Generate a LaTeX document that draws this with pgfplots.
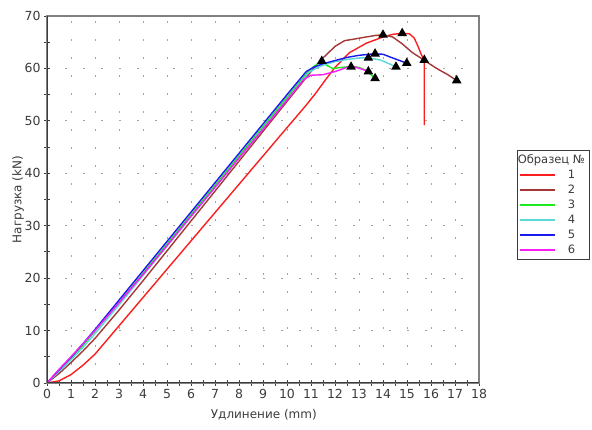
\documentclass[border=0pt]{standalone}
\usepackage{pgfplots}
\pgfplotsset{compat=1.18}
\usepackage{fontspec}
\setmainfont{DejaVu Sans}
\definecolor{c1}{RGB}{250,30,30}
\definecolor{c2}{RGB}{165,55,55}
\definecolor{c3}{RGB}{30,235,30}
\definecolor{c4}{RGB}{90,215,215}
\definecolor{c5}{RGB}{25,25,240}
\definecolor{c6}{RGB}{245,30,245}
\definecolor{gridc}{RGB}{165,165,145}
\definecolor{axc}{RGB}{60,60,60}
\begin{document}
\begin{tikzpicture}
\path[use as bounding box] (0pt,0pt) rectangle (592pt,430pt);
\begin{axis}[
  at={(47pt,47pt)}, anchor=south west,
  scale only axis, width=432pt, height=367pt,
  xmin=0, xmax=18, ymin=0, ymax=70,
  xtick distance=1, ytick distance=10,
  minor x tick num=1, minor y tick num=1,
  xtick pos=left, ytick pos=left,
  tick align=center,
  major tick length=6pt, minor tick length=6pt,
  every tick/.style={axc, line width=0.9pt},
  axis line style={gray, line width=1.4pt},
  grid=major,
  major grid style={gridc, line width=0.9pt, dash pattern=on 2pt off 16pt},
  /pgf/number format/assume math mode=true,
  tick label style={font=\fontsize{12.5}{14}\selectfont, text=axc},
  xlabel={Удлинение (mm)},
  ylabel={Нагрузка (kN)},
  every axis x label/.style={at={(axis description cs:0.502,-0.087)}, anchor=center, font=\fontsize{12}{14}\selectfont, text=axc},
  every axis y label/.style={at={(axis description cs:-0.067,0.5)}, rotate=90, anchor=center, font=\fontsize{12}{14}\selectfont, text=axc},
  legend style={at={(axis description cs:1.088,0.635)}, anchor=north west,
    draw=axc, line width=0.7pt, font=\fontsize{11.5}{14}\selectfont, text=axc,
    row sep=1pt, inner xsep=2pt, inner ysep=2.5pt},
  legend cell align=left,
  legend image code/.code={\draw[#1, line width=1.4pt] (0pt,0pt) -- (35pt,0pt);},
  every axis plot/.append style={line width=1.4pt},
]
\addlegendimage{empty legend}
\addlegendentry{\hspace*{-40pt}Образец №}
\addplot[c1, draw=c1] coordinates {(0,0)(0.5,0.4)(1,1.6)(1.5,3.4)(2,5.5)(2.5,8.2)(3,10.9)(4,16.3)(5,21.7)(6,27.1)(7,32.5)(8,37.9)(9,43.3)(10,48.7)(10.8,53.0)(11.2,55.3)(11.6,57.8)(12,60.2)(12.6,63.0)(13.3,64.8)(14,66.0)(14.4,66.5)(14.8,66.7)(15.1,66.6)(15.3,65.8)(15.45,64.3)(15.6,62.6)(15.72,61.6)(15.72,49.2)};
\addlegendentry{\hspace*{10pt}1}
\addplot[c2, draw=c2] coordinates {(0,0)(0.5,1.8)(1,3.9)(1.5,6.1)(2,8.5)(3,13.9)(4,19.5)(5,25.2)(6,30.9)(7,36.6)(8,42.3)(9,48.0)(10,53.7)(11,59.4)(11.5,62.0)(12,64.2)(12.4,65.3)(12.8,65.6)(13.3,66.0)(13.7,66.3)(14,66.4)(14.4,66.0)(14.8,64.7)(15.2,63.1)(15.7,61.6)(16.2,60.1)(16.7,58.8)(17.07,57.7)};
\addlegendentry{\hspace*{10pt}2}
\addplot[c3, draw=c3] coordinates {(0,0)(0.5,2.4)(1,4.7)(1.5,7.2)(2,9.9)(3,15.3)(4,20.9)(5,26.5)(6,32.1)(7,37.7)(8,43.3)(9,48.9)(10,54.5)(10.9,59.5)(11.15,60.5)(11.45,61.4)(11.65,60.6)(11.9,60.0)(12.3,60.2)(12.7,60.4)(13.0,60.2)(13.25,59.7)(13.45,59.0)(13.67,58.1)};
\addlegendentry{\hspace*{10pt}3}
\addplot[c4, draw=c4] coordinates {(0,0)(0.5,2.2)(1,4.4)(1.5,6.8)(2,9.4)(3,14.9)(4,20.5)(5,26.1)(6,31.7)(7,37.3)(8,42.9)(9,48.5)(10,54.1)(10.9,59.2)(11.2,60.0)(11.5,60.6)(12,61.3)(12.5,61.7)(13,62.0)(13.39,62.0)(13.9,61.6)(14.3,60.8)(14.54,60.3)};
\addlegendentry{\hspace*{10pt}4}
\addplot[c5, draw=c5] coordinates {(0,0)(0.5,2.5)(1,4.9)(1.5,7.5)(2,10.2)(3,15.8)(4,21.4)(5,27.0)(6,32.6)(7,38.2)(8,43.8)(9,49.4)(10,55.0)(10.8,59.4)(11.1,60.2)(11.5,60.9)(12,61.5)(12.5,62.1)(13,62.5)(13.67,62.8)(14,62.7)(14.4,62.0)(14.99,61.0)};
\addlegendentry{\hspace*{10pt}5}
\addplot[c6, draw=c6] coordinates {(0,0)(0.5,2.6)(1,5.0)(1.5,7.5)(2,10.0)(3,15.3)(4,20.7)(5,26.2)(6,31.8)(7,37.3)(8,42.9)(9,48.4)(10,54.0)(10.7,57.9)(11.0,58.7)(11.5,58.8)(12,59.4)(12.5,60.2)(12.8,60.3)(13.1,59.9)(13.39,59.4)};
\addlegendentry{\hspace*{10pt}6}
\addplot[only marks, mark=triangle*, mark size=4.2pt, black, forget plot] coordinates {(11.45,61.4)(12.67,60.3)(13.39,62.0)(13.67,62.8)(13.39,59.4)(13.67,58.1)(14.54,60.3)(14.99,61.0)(14.0,66.4)(14.8,66.7)(15.72,61.6)(17.07,57.7)};
\draw[axc, line width=1.8pt] (rel axis cs:0,1) -- (rel axis cs:0,0) -- (rel axis cs:1,0);
\end{axis}
\end{tikzpicture}
\end{document}
